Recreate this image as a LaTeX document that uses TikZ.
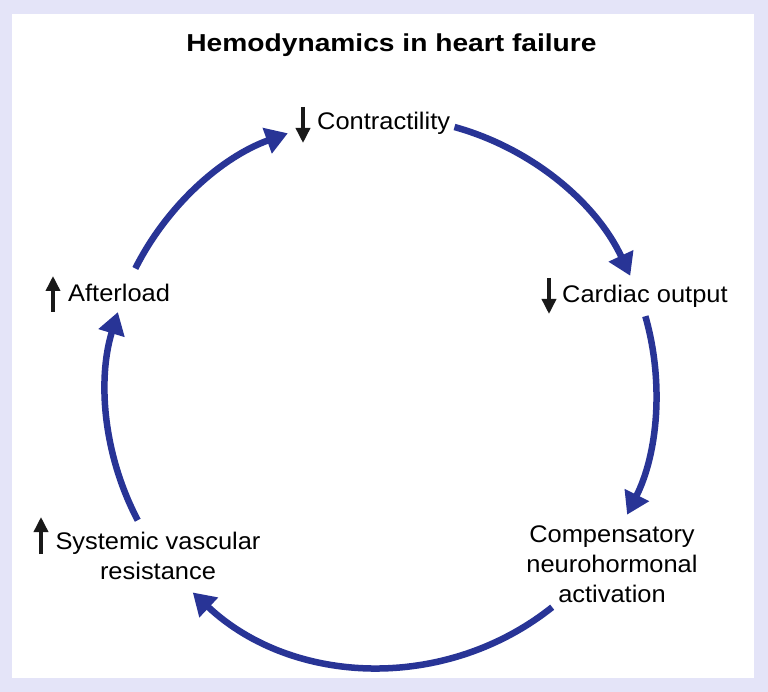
\documentclass[tikz,border=0pt]{standalone}
\usepackage{fontspec}
\setmainfont{Liberation Sans}[FakeStretch=1.06]
\newfontfamily\titlefont{Liberation Sans}[FakeStretch=1.15]
\usetikzlibrary{arrows.meta}
\definecolor{bgcol}{RGB}{228,228,248}
\definecolor{arcblue}{RGB}{40,52,150}
\tikzset{
  label/.style={inner sep=0pt, font=\fontsize{24}{30}\selectfont, text=black},
  cycle/.style={draw=arcblue, line width=6.5pt, -{Triangle[length=22pt,width=26pt]}},
  updown/.style={draw=black!90, line width=3.5pt, -{Triangle[length=15pt,width=14pt]}}
}
\begin{document}
\begin{tikzpicture}[x=1pt,y=-1pt]
\useasboundingbox (0,0) rectangle (768,692);
\fill[bgcol] (0,0) rectangle (768,692);
\fill[white] (12,14) rectangle (754,678);
\node[inner sep=0pt, anchor=base, font=\titlefont\bfseries\fontsize{24.5}{28}\selectfont] (title) at (391.5,52) {Hemodynamics in heart failure};
\coordinate (O) at (381,392);
\def\R{275}
% labels
\node[label, anchor=base west] (contr) at (317,130) {Contractility};
\node[label, anchor=base west] (co) at (562,303) {Cardiac output};
\node[label, anchor=base west] (after) at (68,302) {Afterload};
\node[label, align=center] (svr) at (158,556) {Systemic vascular\\resistance};
\node[label, align=center] (comp) at (612,564) {Compensatory\\neurohormonal\\activation};
% small up/down arrows
\coordinate (contrA) at (303,107);
\coordinate (contrB) at (303,143);
\draw[updown] (contrA) -- (contrB);
\coordinate (coA) at (549,278);
\coordinate (coB) at (549,314);
\draw[updown] (coA) -- (coB);
\coordinate (afA) at (53,312);
\coordinate (afB) at (53,276);
\draw[updown] (afA) -- (afB);
\coordinate (svA) at (41,554);
\coordinate (svB) at (41,517);
\draw[updown] (svA) -- (svB);
% cycle arcs
\draw[cycle] (O) ++(-74.5:\R) arc[start angle=-74.5, end angle=-25, radius=\R];
\draw[cycle] (O) ++(-16:\R) arc[start angle=-16, end angle=26.5, radius=\R];
\draw[cycle] (O) ++(51.5:\R) arc[start angle=51.5, end angle=133.2, radius=\R];
\draw[cycle] (O) ++(152.2:\R) arc[start angle=152.2, end angle=196.9, radius=\R];
\draw[cycle] (O) ++(206.7:\R) arc[start angle=206.7, end angle=250.2, radius=\R];
\end{tikzpicture}
\end{document}
